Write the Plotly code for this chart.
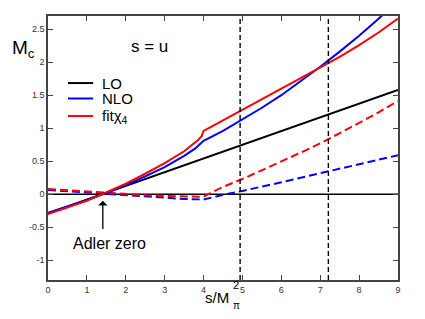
import plotly.graph_objects as go

# ---------------- data ----------------
s_lo = [0.0, 9.0]
lo = [-0.29, 1.58]

s_nlo = [0.0, 0.5, 1.0, 1.4, 2.0, 2.5, 3.0, 3.5, 3.78, 3.91, 4.0,
         4.5, 5.0, 5.5, 6.0, 6.5, 7.0, 7.5, 8.0, 8.5, 9.0]
nlo = [-0.28, -0.19, -0.09, 0.0, 0.14, 0.27, 0.41, 0.58, 0.69, 0.76, 0.81,
       0.96, 1.13, 1.31, 1.50, 1.71, 1.93, 2.16, 2.40, 2.66, 2.93]

s_fit = [0.0, 0.5, 1.0, 1.4, 2.0, 2.5, 3.0, 3.5, 3.7, 3.86, 3.95, 4.0,
         4.5, 5.0, 5.5, 6.0, 6.5, 7.0, 7.5, 8.0, 8.5, 9.0]
fit = [-0.30, -0.20, -0.10, 0.0, 0.16, 0.31, 0.47, 0.65, 0.74, 0.82, 0.88, 0.96,
       1.12, 1.28, 1.44, 1.60, 1.76, 1.92, 2.08, 2.26, 2.45, 2.66]

s_dash = [0.0, 0.5, 1.0, 1.4, 2.0, 2.5, 3.0, 3.5, 4.0,
          4.25, 4.5, 5.0, 5.5, 6.0, 6.5, 7.0, 7.5, 8.0, 8.5, 9.0]
nlo_dash = [0.065, 0.045, 0.022, 0.005, -0.02, -0.04, -0.06, -0.072, -0.08,
            -0.04, -0.01, 0.05, 0.11, 0.18, 0.25, 0.32, 0.39, 0.45, 0.52, 0.59]
fit_dash = [0.08, 0.06, 0.035, 0.02, 0.0, -0.015, -0.025, -0.035, -0.04,
            0.04, 0.11, 0.23, 0.36, 0.50, 0.63, 0.77, 0.92, 1.08, 1.24, 1.41]

vlines = [4.94, 7.21]
adler_s = 1.41

x_ticks = [0, 1, 2, 3, 4, 5, 6, 7, 8, 9]
y_ticks = [-1, -0.5, 0, 0.5, 1, 1.5, 2, 2.5]
y_ticklabels = ["-1", "-0.5", "0", "0.5", "1", "1.5", "2", "2.5"]

legend_names = ["LO", "NLO", "fitχ<sub>4</sub>"]
legend_colors = ["black", "#0000ff", "#ff0000"]

# ---------------- figure ----------------
FONT = "Liberation Sans, Arial, sans-serif"
fig = go.Figure()

# zero line
fig.add_trace(go.Scatter(x=[x_ticks[0], x_ticks[-1]], y=[0, 0], mode="lines",
                         line=dict(color="black", width=1.5), showlegend=False,
                         hoverinfo="skip"))

fig.add_trace(go.Scatter(x=s_dash, y=nlo_dash, mode="lines",
                         line=dict(color="#0000ff", width=2, dash="8px,4px"),
                         showlegend=False))
fig.add_trace(go.Scatter(x=s_dash, y=fit_dash, mode="lines",
                         line=dict(color="#ff0000", width=2, dash="8px,4px"),
                         showlegend=False))
fig.add_trace(go.Scatter(x=s_lo, y=lo, mode="lines",
                         line=dict(color="black", width=2), showlegend=False))
fig.add_trace(go.Scatter(x=s_nlo, y=nlo, mode="lines",
                         line=dict(color="#0000ff", width=2), showlegend=False))
fig.add_trace(go.Scatter(x=s_fit, y=fit, mode="lines",
                         line=dict(color="#ff0000", width=2), showlegend=False))

for v in vlines:
    fig.add_shape(type="line", x0=v, x1=v, y0=0, y1=1, xref="x", yref="paper",
                  line=dict(color="black", width=1.4, dash="5px,3px"))

# manual legend
leg_y = [0.746, 0.6875, 0.621]
for name, col, ly in zip(legend_names, legend_colors, leg_y):
    fig.add_shape(type="line", x0=0.057, x1=0.129, y0=ly, y1=ly,
                  xref="paper", yref="paper", line=dict(color=col, width=2))
    fig.add_annotation(x=0.149, y=ly, xref="paper", yref="paper", text=name,
                       showarrow=False, xanchor="left", yanchor="middle",
                       font=dict(size=15, color="black", family=FONT))

# texts
fig.add_annotation(x=0.289, y=0.886, xref="paper", yref="paper", text="s = u",
                   showarrow=False, xanchor="center", yanchor="middle",
                   font=dict(size=17, color="black", family=FONT))
fig.add_annotation(x=-0.07, y=0.875, xref="paper", yref="paper",
                   text="M<sub>c</sub>", showarrow=False,
                   xanchor="center", yanchor="middle",
                   font=dict(size=19, color="black", family=FONT))
# Adler zero arrow + text
fig.add_annotation(x=adler_s, y=-0.1, ax=adler_s, ay=-0.55, xref="x", yref="y",
                   axref="x", ayref="y", text="", showarrow=True,
                   arrowhead=1, arrowsize=1.2, arrowwidth=1.3, arrowcolor="black")
fig.add_annotation(x=1.59, y=-0.74, xref="x", yref="y", text="Adler zero",
                   showarrow=False, xanchor="center", yanchor="middle",
                   font=dict(size=16, color="black", family=FONT))

# x-axis title built from pieces (stacked sub/sup)
fig.add_annotation(x=0.5218, y=-0.065, xref="paper", yref="paper", text="s/M",
                   showarrow=False, xanchor="right", yanchor="middle",
                   font=dict(size=15, color="black", family=FONT))
fig.add_annotation(x=0.5218, y=-0.02, xref="paper", yref="paper", text="2",
                   showarrow=False, xanchor="left", yanchor="middle",
                   font=dict(size=11, color="black", family=FONT))
fig.add_annotation(x=0.5218, y=-0.095, xref="paper", yref="paper", text="π",
                   showarrow=False, xanchor="left", yanchor="middle",
                   font=dict(size=10, color="black", family=FONT))

axis_common = dict(showline=True, linecolor="#444", linewidth=1.5, mirror="ticks",
                   ticks="inside", ticklen=5, tickwidth=1, tickcolor="#444",
                   showgrid=False, zeroline=False,
                   tickfont=dict(size=9, color="#333", family=FONT))
fig.update_xaxes(range=[0, 9], tickvals=x_ticks, automargin=False, **axis_common)
fig.update_yaxes(range=[-1.3, 2.7], tickvals=y_ticks, ticktext=y_ticklabels,
                 automargin=False, **axis_common)

# page body has an 8px default margin -> shift the plot area to compensate
fig.update_layout(width=425, height=319,
                  margin=dict(l=40, r=35, t=8, b=47, pad=0, autoexpand=False),
                  paper_bgcolor="white", plot_bgcolor="white", showlegend=False)

fig.write_html("out.html")
